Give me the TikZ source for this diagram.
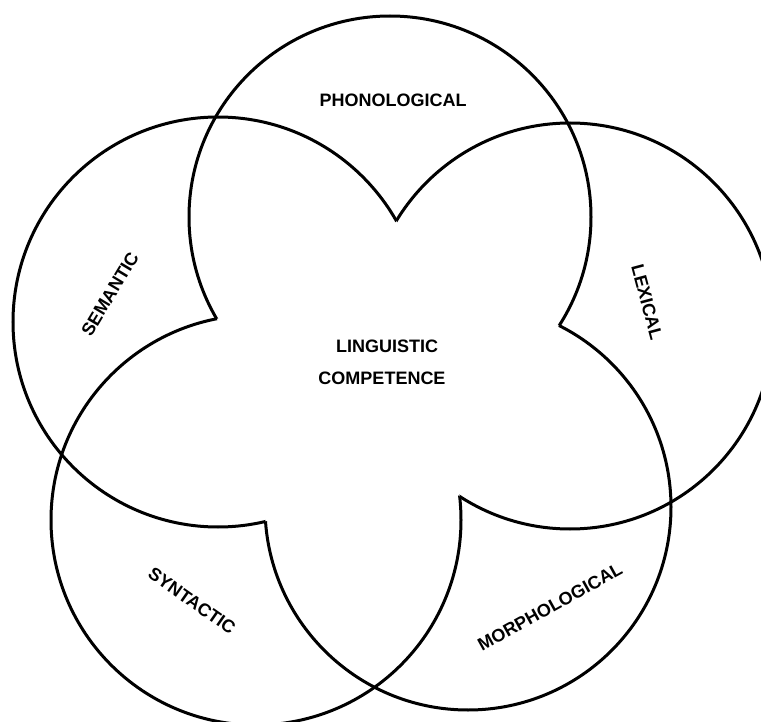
\documentclass[tikz,border=0pt]{standalone}
\usepackage{fontspec}
\setmainfont{Liberation Sans}
\begin{document}
\begin{tikzpicture}[x=1pt,y=-1pt,
  ring/.style={line width=3pt,black},
  lab/.style={font=\fontsize{18}{20}\selectfont\bfseries, inner sep=0pt}]
\useasboundingbox (0,0) rectangle (761,722);
\clip (0,0) rectangle (761,722);
% circle centres
\coordinate (P) at (390,217);
\coordinate (S) at (218,322);
\coordinate (L) at (570,326);
\coordinate (Y) at (256,520);
\coordinate (M) at (468,507);
\def\radP{201pt}
\def\radS{205pt}
\def\radL{203pt}
\def\radY{205pt}
\def\radM{203pt}
% phonological: hidden inside syntactic and morphological
\begin{scope}[even odd rule]
  \clip (-100,-100) rectangle (900,900) (Y) circle (\radY);
  \clip (-100,-100) rectangle (900,900) (M) circle (\radM);
  \draw[ring] (P) circle (\radP);
\end{scope}
% lexical: hidden inside semantic and syntactic
\begin{scope}[even odd rule]
  \clip (-100,-100) rectangle (900,900) (S) circle (\radS);
  \clip (-100,-100) rectangle (900,900) (Y) circle (\radY);
  \draw[ring] (L) circle (\radL);
\end{scope}
% morphological: hidden inside phonological and semantic
\begin{scope}[even odd rule]
  \clip (-100,-100) rectangle (900,900) (P) circle (\radP);
  \clip (-100,-100) rectangle (900,900) (S) circle (\radS);
  \draw[ring] (M) circle (\radM);
\end{scope}
% syntactic: hidden inside phonological and lexical
\begin{scope}[even odd rule]
  \clip (-100,-100) rectangle (900,900) (P) circle (\radP);
  \clip (-100,-100) rectangle (900,900) (L) circle (\radL);
  \draw[ring] (Y) circle (\radY);
\end{scope}
% semantic: hidden inside lexical and morphological
\begin{scope}[even odd rule]
  \clip (-100,-100) rectangle (900,900) (L) circle (\radL);
  \clip (-100,-100) rectangle (900,900) (M) circle (\radM);
  \draw[ring] (S) circle (\radS);
\end{scope}
% labels
\node[lab] (phon) at (393,100) {PHONOLOGICAL};
\node[lab, rotate=59] (sem) at (110,294) {SEMANTIC};
\node[lab, rotate=-75] (lex) at (647,302) {LEXICAL};
\node[lab, rotate=-35] (syn) at (192,601) {SYNTACTIC};
\node[lab, rotate=29] (mor) at (550,607) {MORPHOLOGICAL};
\node[lab] (ling) at (387,346) {LINGUISTIC};
\node[lab] (comp) at (382,378) {COMPETENCE};
\end{tikzpicture}
\end{document}
